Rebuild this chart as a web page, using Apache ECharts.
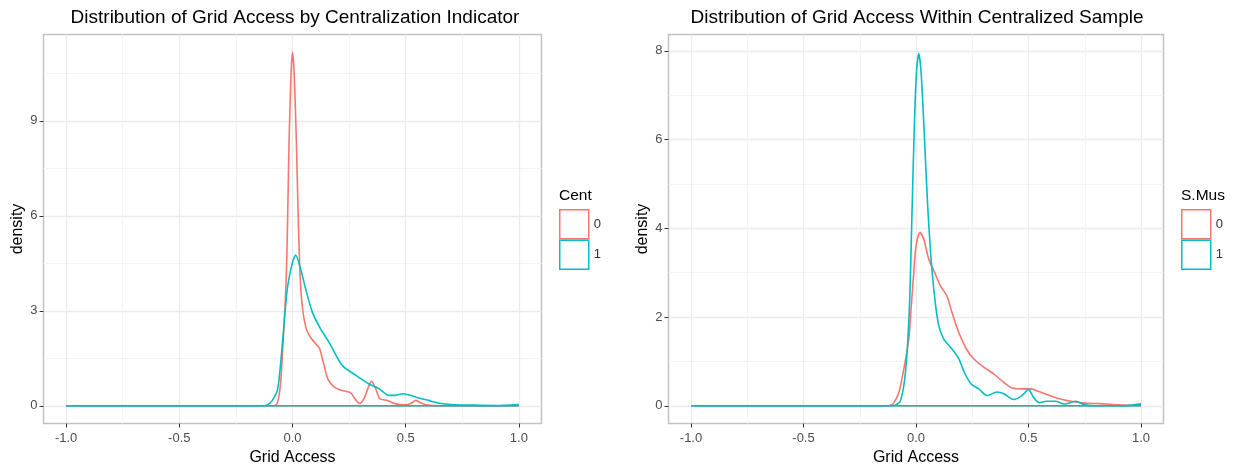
<!DOCTYPE html>
<html>
<head>
<meta charset="utf-8">
<title>Distribution of Grid Access</title>
<script src="https://cdn.jsdelivr.net/npm/echarts@6/dist/echarts.min.js"></script>
<style>
  html, body { margin: 0; padding: 0; background: #fff; }
  #main { width: 1238px; height: 467px; }
</style>
</head>
<body>
<div id="main"></div>
<script>
// axis ticks
var xTicks = [-1, -0.5, 0, 0.5, 1]
var xMinor = [-0.75, -0.25, 0.25, 0.75]
var yTicksLeft = [0, 3, 6, 9]
var yMinorLeft = [1.5, 4.5, 7.5, 10.5]
var yTicksRight = [0, 2, 4, 6, 8]
var yMinorRight = [1, 3, 5, 7]
var groups = ['0', '1']

// left panel: Cent = 0
var centX0 = [-1.0, -0.15, -0.1, -0.074, -0.06, -0.049, -0.027, -0.015, -0.006, 0.0, 0.007, 0.017, 0.024, 0.033, 0.043, 0.061, 0.085, 0.11, 0.12, 0.136, 0.156, 0.185, 0.22, 0.257, 0.276, 0.296, 0.318, 0.337, 0.35, 0.367, 0.386, 0.419, 0.456, 0.5, 0.525, 0.544, 0.565, 0.59, 0.62, 0.7, 0.8, 0.9, 1.0]
var centY0 = [0, 0, 0, 0.02, 0.3, 1.06, 4.2, 8.4, 10.56, 11.17, 10.56, 8.4, 6.3, 4.2, 3.16, 2.43, 2.11, 1.9, 1.8, 1.38, 0.85, 0.59, 0.48, 0.41, 0.22, 0.07, 0.26, 0.63, 0.77, 0.55, 0.22, 0.17, 0.06, 0.03, 0.08, 0.17, 0.1, 0.03, 0.01, 0, 0, 0, 0.01]
// left panel: Cent = 1
var centX1 = [-1.0, -0.16, -0.125, -0.11, -0.089, -0.065, -0.043, -0.023, 0.0, 0.014, 0.036, 0.058, 0.088, 0.124, 0.161, 0.22, 0.28, 0.338, 0.382, 0.426, 0.455, 0.487, 0.52, 0.546, 0.6, 0.65, 0.7, 0.8, 0.9, 1.0]
var centY1 = [0, 0, 0, 0.03, 0.17, 0.54, 2.11, 3.69, 4.53, 4.76, 4.32, 3.69, 2.95, 2.43, 2.01, 1.27, 0.96, 0.69, 0.54, 0.33, 0.33, 0.38, 0.33, 0.27, 0.17, 0.08, 0.04, 0.02, 0.01, 0.04]

// right panel: S.Mus = 0
var musX0 = [-1.0, -0.15, -0.113, -0.098, -0.076, -0.057, -0.032, -0.021, -0.01, 0.0, 0.018, 0.035, 0.057, 0.083, 0.109, 0.138, 0.16, 0.19, 0.224, 0.256, 0.301, 0.345, 0.39, 0.427, 0.478, 0.508, 0.552, 0.6, 0.65, 0.7, 0.75, 0.8, 0.85, 0.9, 0.95, 1.0]
var musY0 = [0, 0, 0.01, 0.07, 0.3, 0.75, 1.5, 2.25, 3.0, 3.6, 3.91, 3.74, 3.3, 3.0, 2.7, 2.47, 2.1, 1.65, 1.28, 1.06, 0.87, 0.72, 0.53, 0.4, 0.38, 0.38, 0.31, 0.22, 0.14, 0.09, 0.06, 0.05, 0.04, 0.02, 0.01, 0.05]
// right panel: S.Mus = 1
var musX1 = [-1.0, -0.12, -0.093, -0.069, -0.047, -0.029, -0.017, -0.007, 0.002, 0.012, 0.023, 0.038, 0.052, 0.072, 0.098, 0.123, 0.16, 0.19, 0.215, 0.245, 0.279, 0.316, 0.36, 0.39, 0.434, 0.471, 0.5, 0.522, 0.548, 0.58, 0.62, 0.66, 0.71, 0.75, 0.8, 0.9, 1.0]
var musY1 = [0, 0, 0.01, 0.11, 0.75, 2.25, 4.5, 6.37, 7.5, 7.94, 7.5, 6.0, 4.5, 3.0, 1.88, 1.5, 1.28, 1.06, 0.75, 0.49, 0.38, 0.23, 0.31, 0.27, 0.14, 0.23, 0.37, 0.19, 0.07, 0.1, 0.1, 0.04, 0.1, 0.02, 0, 0, 0.03]

var colors = ['#F8766D', '#00BFC4']
var font = 'Liberation Sans, Arial, Helvetica, sans-serif'

function pairs (xs, ys) {
  return xs.map(function (x, i) { return [x, ys[i]] })
}

// main axis (ticks, labels, major grid) plus a hidden one for the minor grid
function xAxes (gridIndex) {
  return [
    {
      type: 'value', gridIndex: gridIndex, min: -1.1, max: 1.1, position: 'bottom',
      name: 'Grid Access', nameLocation: 'middle', nameGap: 19,
      nameTextStyle: { fontSize: 16, color: '#000', fontFamily: font },
      axisLine: { show: false, onZero: false },
      axisTick: { show: true, length: 4, customValues: xTicks, lineStyle: { color: '#333', width: 1 } },
      axisLabel: { customValues: xTicks, margin: 8, fontSize: 13, color: '#4D4D4D', fontFamily: font,
        formatter: function (v) { return v.toFixed(1) } },
      splitLine: { show: true, lineStyle: { color: '#EBEBEB', width: 1.3 } }
    },
    {
      type: 'value', gridIndex: gridIndex, min: -1.1, max: 1.1, position: 'top',
      axisLine: { show: false, onZero: false },
      axisTick: { show: false, customValues: xMinor },
      axisLabel: { show: false, customValues: xMinor },
      splitLine: { show: true, lineStyle: { color: '#F4F4F4', width: 1 } }
    }
  ]
}

function yAxes (gridIndex, ymin, ymax, ticks, minor) {
  return [
    {
      type: 'value', gridIndex: gridIndex, min: ymin, max: ymax, position: 'left',
      name: 'density', nameLocation: 'middle', nameGap: 18,
      nameTextStyle: { fontSize: 16, color: '#000', fontFamily: font },
      axisLine: { show: false, onZero: false },
      axisTick: { show: true, length: 4, customValues: ticks, lineStyle: { color: '#333', width: 1 } },
      axisLabel: { customValues: ticks, margin: 6, fontSize: 13, color: '#4D4D4D', fontFamily: font },
      splitLine: { show: true, lineStyle: { color: '#EBEBEB', width: 1.3 } }
    },
    {
      type: 'value', gridIndex: gridIndex, min: ymin, max: ymax, position: 'right',
      axisLine: { show: false, onZero: false },
      axisTick: { show: false, customValues: minor },
      axisLabel: { show: false, customValues: minor },
      splitLine: { show: true, lineStyle: { color: '#F4F4F4', width: 1 } }
    }
  ]
}

// one density polygon = the curve plus its flat base line
function density (name, xs, ys, color, axisIndex) {
  var base = {
    name: name, type: 'line', xAxisIndex: axisIndex, yAxisIndex: axisIndex,
    data: [[xs[0], 0], [xs[xs.length - 1], 0]],
    showSymbol: false, silent: true,
    lineStyle: { color: color, width: 1.6 }, itemStyle: { color: color }
  }
  var curve = {
    name: name, type: 'line', xAxisIndex: axisIndex, yAxisIndex: axisIndex,
    data: pairs(xs, ys), smooth: 0.25,
    showSymbol: false, silent: true,
    lineStyle: { color: color, width: 1.6 }, itemStyle: { color: color }
  }
  return [base, curve]
}

function legendFor (left) {
  return {
    left: left, top: 209, orient: 'vertical', padding: 0,
    itemWidth: 29, itemHeight: 29, itemGap: 0, icon: 'rect', selectedMode: false,
    textStyle: { fontSize: 13, color: '#333', fontFamily: font },
    data: groups.map(function (g, i) {
      return { name: g, itemStyle: { color: '#fff', borderColor: colors[i], borderWidth: 1.5 } }
    })
  }
}

var myChart = echarts.init(document.getElementById('main'))

var series = []
  .concat(density(groups[0], centX0, centY0, colors[0], 0))
  .concat(density(groups[1], centX1, centY1, colors[1], 0))
  .concat(density(groups[0], musX0, musY0, colors[0], 2))
  .concat(density(groups[1], musX1, musY1, colors[1], 2))

var options = {
  animation: false,
  backgroundColor: '#fff',
  textStyle: { fontFamily: font },
  grid: [
    { left: 43.5, top: 34.5, width: 498, height: 389, outerBoundsMode: 'none', containLabel: false, show: true, borderColor: '#C2C2C2', borderWidth: 1.5, backgroundColor: 'transparent' },
    { left: 668.5, top: 34.5, width: 495, height: 389, outerBoundsMode: 'none', containLabel: false, show: true, borderColor: '#C2C2C2', borderWidth: 1.5, backgroundColor: 'transparent' }
  ],
  xAxis: xAxes(0).concat(xAxes(1)),
  yAxis: yAxes(0, -0.56, 11.73, yTicksLeft, yMinorLeft).concat(yAxes(1, -0.4, 8.37, yTicksRight, yMinorRight)),
  legend: [legendFor(559), legendFor(1181)],
  graphic: [
    { type: 'text', x: 295, y: 18, style: { text: 'Distribution of Grid Access by Centralization Indicator', fontSize: 19, fontFamily: font, fill: '#000', textAlign: 'center', textVerticalAlign: 'middle' } },
    { type: 'text', x: 917, y: 18, style: { text: 'Distribution of Grid Access Within Centralized Sample', fontSize: 19, fontFamily: font, fill: '#000', textAlign: 'center', textVerticalAlign: 'middle' } },
    { type: 'text', x: 559, y: 196, style: { text: 'Cent', fontSize: 15.5, fontFamily: font, fill: '#000', textAlign: 'left', textVerticalAlign: 'middle' } },
    { type: 'text', x: 1181, y: 196, style: { text: 'S.Mus', fontSize: 15.5, fontFamily: font, fill: '#000', textAlign: 'left', textVerticalAlign: 'middle' } }
  ],
  series: series
}

myChart.setOption(options)
</script>
</body>
</html>
